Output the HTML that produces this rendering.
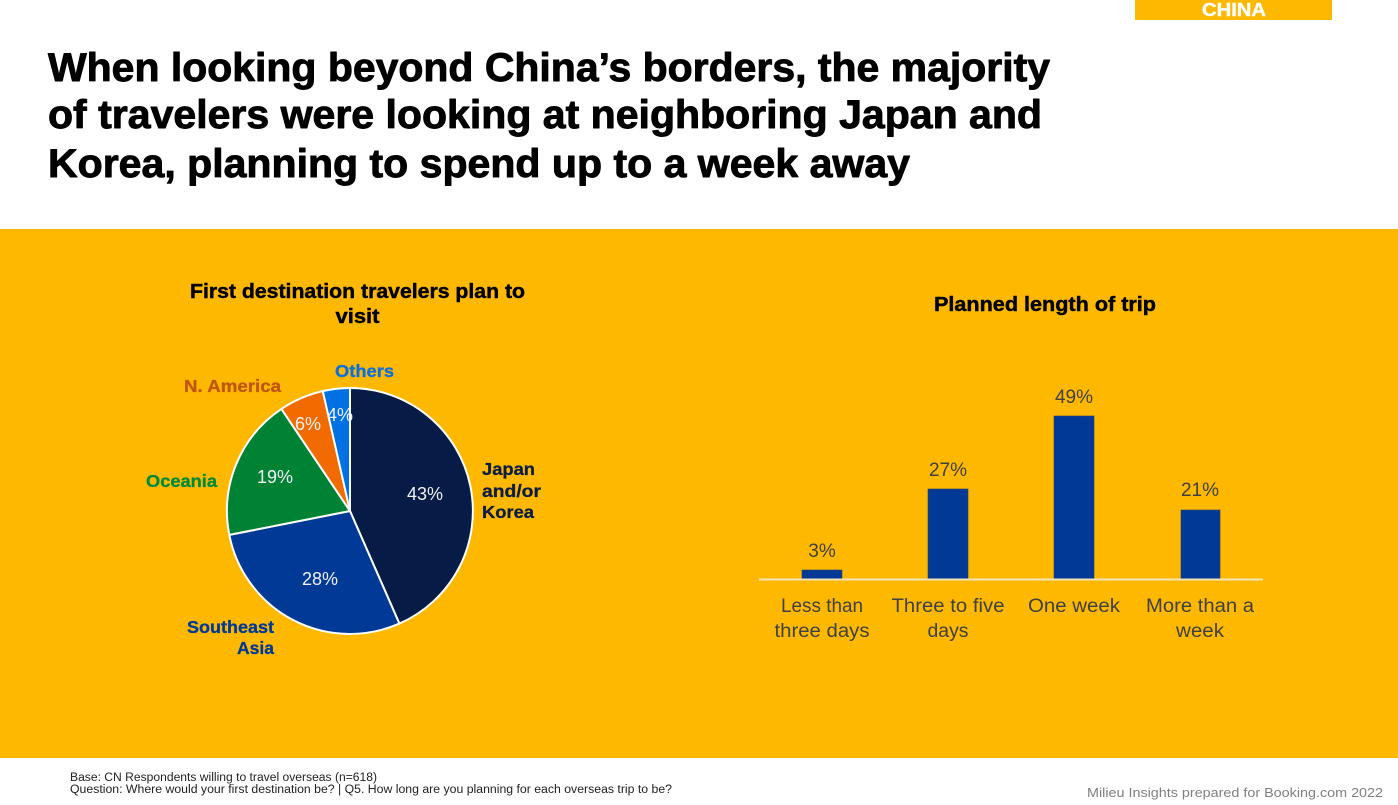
<!DOCTYPE html>
<html><head><meta charset="utf-8">
<style>
html,body{margin:0;padding:0;background:#fff;}
svg{display:block;}
text{font-family:"Liberation Sans",Arial,sans-serif;}
</style></head>
<body>
<svg width="1398" height="805" viewBox="0 0 1398 805" xmlns="http://www.w3.org/2000/svg">
<rect x="0" y="0" width="1398" height="805" fill="#ffffff"/>
<!-- CHINA tag -->
<rect x="1135" y="0" width="197" height="20" fill="#FEB800"/>
<text x="1234" y="16" text-anchor="middle" font-size="18" font-weight="bold" fill="#ffffff" stroke="#ffffff" stroke-width="0.4" textLength="64" lengthAdjust="spacingAndGlyphs">CHINA</text>
<!-- Title -->
<g font-size="40" font-weight="bold" fill="#000" stroke="#000" stroke-width="0.9" stroke-linejoin="round">
<text x="48" y="81" textLength="1002" lengthAdjust="spacingAndGlyphs">When looking beyond China’s borders, the majority</text>
<text x="48" y="128" textLength="994" lengthAdjust="spacingAndGlyphs">of travelers were looking at neighboring Japan and</text>
<text x="48" y="177" textLength="862" lengthAdjust="spacingAndGlyphs">Korea, planning to spend up to a week away</text>
</g>
<!-- Yellow band -->
<rect x="0" y="229" width="1398" height="529" fill="#FEB800"/>

<!-- Pie chart title -->
<g font-size="20" font-weight="bold" fill="#000" stroke="#000" stroke-width="0.45" text-anchor="middle">
<text x="357.5" y="298" textLength="335" lengthAdjust="spacingAndGlyphs">First destination travelers plan to</text>
<text x="357.5" y="323" textLength="44" lengthAdjust="spacingAndGlyphs">visit</text>
</g>

<!-- Pie -->
<g stroke="#ffffff" stroke-width="2" stroke-linejoin="round">
<path d="M350,511 L350,388 A123,123 0 0 1 399.4,623.6 Z" fill="#061C46"/>
<path d="M350,511 L399.4,623.6 A123,123 0 0 1 229.3,534.9 Z" fill="#003A96"/>
<path d="M350,511 L229.3,534.9 A123,123 0 0 1 281.4,408.9 Z" fill="#008234"/>
<path d="M350,511 L281.4,408.9 A123,123 0 0 1 322.8,391.1 Z" fill="#F26B00"/>
<path d="M350,511 L322.8,391.1 A123,123 0 0 1 350,388 Z" fill="#0071E2"/>
</g>
<g font-size="18" fill="#F2F2F2" text-anchor="middle">
<text x="425" y="500">43%</text>
<text x="320" y="585">28%</text>
<text x="275" y="483">19%</text>
<text x="308" y="430">6%</text>
<text x="340" y="421">4%</text>
</g>
<g font-size="17.5" font-weight="bold" stroke-width="0.3">
<text x="335" y="377" fill="#0A6FE0" stroke="#0A6FE0" textLength="59" lengthAdjust="spacingAndGlyphs">Others</text>
<text x="184" y="392" fill="#C0560F" stroke="#C0560F" textLength="97" lengthAdjust="spacingAndGlyphs">N. America</text>
<text x="146" y="487" fill="#008A3A" stroke="#008A3A" textLength="71" lengthAdjust="spacingAndGlyphs">Oceania</text>
<text x="482" y="475" fill="#0B1D45" stroke="#0B1D45" textLength="53" lengthAdjust="spacingAndGlyphs">Japan</text>
<text x="482" y="497" fill="#0B1D45" stroke="#0B1D45" textLength="59" lengthAdjust="spacingAndGlyphs">and/or</text>
<text x="482" y="518" fill="#0B1D45" stroke="#0B1D45" textLength="52" lengthAdjust="spacingAndGlyphs">Korea</text>
<text x="274" y="633" fill="#003A96" stroke="#003A96" text-anchor="end" textLength="87" lengthAdjust="spacingAndGlyphs">Southeast</text>
<text x="274" y="654" fill="#003A96" stroke="#003A96" text-anchor="end">Asia</text>
</g>

<!-- Bar chart -->
<text x="1045" y="311" text-anchor="middle" font-size="20" font-weight="bold" fill="#000" stroke="#000" stroke-width="0.45" textLength="222" lengthAdjust="spacingAndGlyphs">Planned length of trip</text>
<g fill="#003A96" stroke="#2B3F6E" stroke-width="0.6">
<rect x="802" y="570" width="40" height="9"/>
<rect x="928" y="489" width="40" height="90"/>
<rect x="1054" y="416" width="40" height="163"/>
<rect x="1181" y="510" width="39" height="69"/>
</g>
<line x1="759" y1="579.5" x2="1263" y2="579.5" stroke="#F3E4B8" stroke-width="2"/>
<g font-size="19" fill="#404040" text-anchor="middle">
<text x="822" y="557">3%</text>
<text x="948" y="476">27%</text>
<text x="1074" y="403">49%</text>
<text x="1200" y="496">21%</text>
<text x="822" y="612" textLength="82" lengthAdjust="spacingAndGlyphs">Less than</text>
<text x="822" y="637" textLength="95" lengthAdjust="spacingAndGlyphs">three days</text>
<text x="948" y="612" textLength="113" lengthAdjust="spacingAndGlyphs">Three to five</text>
<text x="948" y="637" textLength="41" lengthAdjust="spacingAndGlyphs">days</text>
<text x="1074" y="612" textLength="92" lengthAdjust="spacingAndGlyphs">One week</text>
<text x="1200" y="612" textLength="108" lengthAdjust="spacingAndGlyphs">More than a</text>
<text x="1200" y="637" textLength="48" lengthAdjust="spacingAndGlyphs">week</text>
</g>

<!-- Footer -->
<g font-size="11.5" fill="#222">
<text x="70" y="781" textLength="307" lengthAdjust="spacingAndGlyphs">Base: CN Respondents willing to travel overseas (n=618)</text>
<text x="70" y="793" textLength="602" lengthAdjust="spacingAndGlyphs">Question: Where would your first destination be? | Q5. How long are you planning for each overseas trip to be?</text>
</g>
<text x="1087" y="797" font-size="13" fill="#7F7F7F" textLength="296" lengthAdjust="spacingAndGlyphs">Milieu Insights prepared for Booking.com 2022</text>
</svg>
</body></html>
